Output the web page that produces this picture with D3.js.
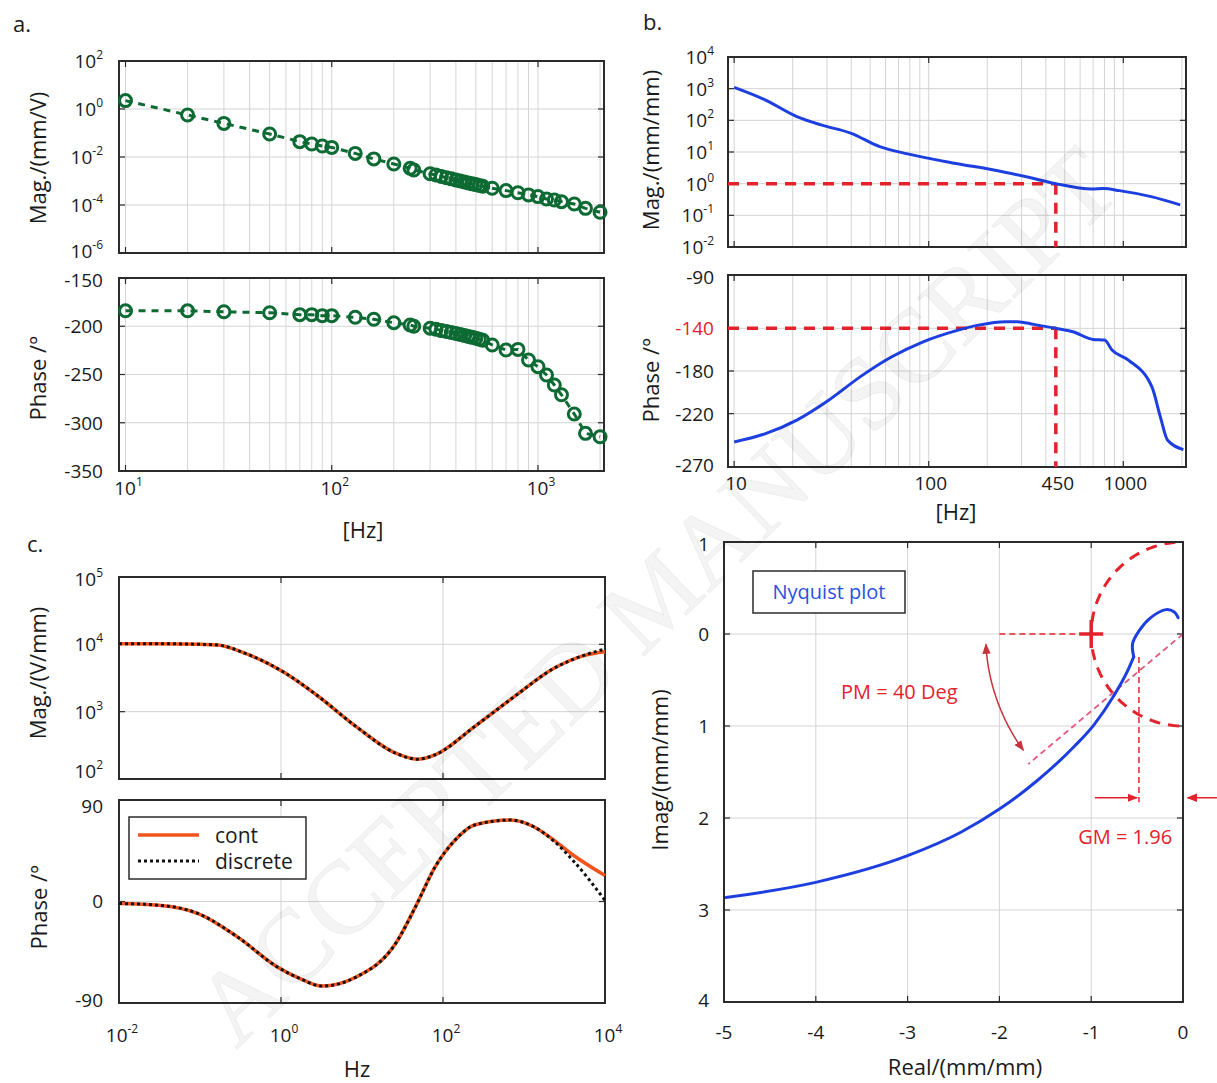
<!DOCTYPE html>
<html>
<head>
<meta charset="utf-8">
<script src="https://cdn.jsdelivr.net/npm/d3@7/dist/d3.min.js"></script>
<style>
html,body{margin:0;padding:0;background:#fff;}
svg text{font-family:'Open Sans',sans-serif;fill:#1a1a1a;}
</style>
</head>
<body>
<svg id="fig" width="1217" height="1083" xmlns="http://www.w3.org/2000/svg"></svg>
<script>
// ================= DATA =================
// Panel a: measured FRF (markers)
const aFreq  = [10,20,30,50,70,80,90,100,130,160,200,240,250,300,320,340,360,380,400,420,440,460,480,500,520,540,600,700,800,900,1000,1100,1200,1300,1500,1700,2000];
const aMag   = [2.24,0.562,0.251,0.0912,0.0437,0.0347,0.0288,0.0251,0.0141,0.00832,0.00513,0.00339,0.00288,0.0020,0.00178,0.00155,0.00138,0.00123,0.0011,0.001,0.000912,0.000832,0.000759,0.000708,0.000646,0.000603,0.000501,0.000398,0.000324,0.000263,0.000224,0.000178,0.000162,0.000138,0.00011,0.0000724,0.0000501];
const aPhase = [-184,-184,-185,-186,-188,-188,-189,-189,-190.7,-192.8,-196.3,-198.7,-200,-202,-203,-204.5,-205.5,-206.5,-207.5,-208.5,-209.5,-210.5,-211.5,-212.5,-213.5,-214.5,-219.4,-224.6,-224,-235,-241.9,-250.5,-260.9,-271,-291,-311,-314.5];

// Panel b: open-loop FRF
const bMagFreq   = [10,14.5,21,28,40,56,78,135,216,343,450,690,790,955,1390,1960];
const bMag       = [1096,437,132,71.6,38.9,14.8,8.71,4.44,2.72,1.48,1.0,0.676,0.70,0.603,0.389,0.214];
const bPhaseFreq = [10,14.5,21,30.6,44.4,64.6,93.6,136,180,249,286,346,450,551,697,801,875,1062,1403,1550,1690,2036];
const bPhase     = [-246.5,-238.7,-226,-207.4,-185.5,-166.7,-152.6,-142.6,-137,-133.8,-133.8,-136.3,-140,-143.2,-150.4,-151,-160.4,-169.8,-194.9,-223,-245,-253.7];
const bCrossFreq = 450;
const bCrossPhase = -140;

// Panel c: controller, continuous vs discrete
const cMagFreq   = [0.01,0.03,0.1,0.166,0.363,1.06,2.75,8.47,26,48,80,245,759,2344,5754,10000];
const cMagCont   = [10230,10230,10000,9770,7330,3920,1770,600,242,197,229,600,1670,4400,6920,7760];
const cMagDisc   = [10230,10230,10000,9770,7330,3920,1770,600,242,197,229,600,1670,4400,7000,8510];
const cPhFreq    = [0.01,0.031,0.095,0.29,0.9,1.8,3.2,8.47,26,45.7,80,141,245,676,1318,2344,4074,10000];
const cPhCont    = [-1.8,-3.3,-10.7,-31.4,-58,-69,-75,-67,-37.3,-4.8,30.7,54.4,67.8,72.2,66.3,54.4,41,23];
const cPhDisc    = [-1.8,-3.3,-10.7,-31.4,-58,-69,-75,-67,-37.3,-4.8,30.7,54.4,67.8,72.2,66.3,53.5,36,1];
const cLegend    = ["cont","discrete"];

// Nyquist
const nyqReal = [-4.98,-3.99,-3.0,-2.42,-2.0,-1.59,-1.18,-0.97,-0.764,-0.6,-0.537,-0.549,-0.475,-0.351,-0.186,-0.095,-0.053];
const nyqImag = [-2.865,-2.697,-2.41,-2.155,-1.903,-1.595,-1.218,-0.987,-0.688,-0.393,-0.248,-0.104,0.04,0.178,0.265,0.24,0.178];
const pmDeg = 40;
const gmReal = -0.48;

// tick labels
const aMagExp   = [2,0,-2,-4,-6];
const aPhTicks  = [-150,-200,-250,-300,-350];
const aXExp     = [1,2,3];
const bMagExp   = [4,3,2,1,0,-1,-2];
const bPhTicks  = [-90,-140,-180,-220,-270];
const bXTicks   = [10,100,450,1000];
const cMagExp   = [5,4,3,2];
const cPhTicks  = [90,0,-90];
const cXExp     = [-2,0,2,4];
const nXTicks   = [-5,-4,-3,-2,-1,0];
const nYTicks   = [1,0,-1,-2,-3,-4];
const nYLabels  = ["1","0","1","2","3","4"];

// ================= DRAWING =================
const svg = d3.select('#fig');
const GRID = '#d4d4d4', AX = '#2b2b2b';
const TFS = 19, LFS = 22;
const GREEN = '#0d6a33', BLUE = '#1d3fe0', RED = '#e3222c', ORANGE = '#f2541e';

const defs = svg.append('defs');
function arrowMarker(id, color){
  defs.append('marker').attr('id', id).attr('viewBox','0 0 10 10').attr('refX',9).attr('refY',5)
    .attr('markerWidth',7).attr('markerHeight',7).attr('orient','auto-start-reverse')
    .append('path').attr('d','M0,1 L10,5 L0,9 z').attr('fill', color);
}
arrowMarker('arrPM', '#c8323c');
arrowMarker('arrGM', RED);

function powLabel(sel, exp){
  sel.append('tspan').text('10');
  sel.append('tspan').attr('dy', -9).attr('font-size', 12).text(String(exp));
}
function frame(g, x0, x1, y0, y1){
  g.append('rect').attr('x',x0).attr('y',y0).attr('width',x1-x0).attr('height',y1-y0)
    .attr('fill','none').attr('stroke',AX).attr('stroke-width',2);
}
function vgrid(g, xs, vals, y0, y1){
  g.append('g').selectAll('line').data(vals).join('line')
    .attr('x1',d=>xs(d)).attr('x2',d=>xs(d)).attr('y1',y0).attr('y2',y1)
    .attr('stroke',GRID).attr('stroke-width',1);
}
function hgrid(g, ys, vals, x0, x1){
  g.append('g').selectAll('line').data(vals).join('line')
    .attr('y1',d=>ys(d)).attr('y2',d=>ys(d)).attr('x1',x0).attr('x2',x1)
    .attr('stroke',GRID).attr('stroke-width',1);
}
function xticks(g, xs, vals, y0, y1, len){
  const t = g.append('g').attr('stroke',AX).attr('stroke-width',1.2);
  t.selectAll('.b').data(vals).join('line').attr('x1',d=>xs(d)).attr('x2',d=>xs(d)).attr('y1',y1).attr('y2',y1-len);
  t.selectAll('.t').data(vals).join('line').attr('x1',d=>xs(d)).attr('x2',d=>xs(d)).attr('y1',y0).attr('y2',y0+len);
}
function yticks(g, ys, vals, x0, x1, len){
  const t = g.append('g').attr('stroke',AX).attr('stroke-width',1.2);
  t.selectAll('.l').data(vals).join('line').attr('y1',d=>ys(d)).attr('y2',d=>ys(d)).attr('x1',x0).attr('x2',x0+len);
  t.selectAll('.r').data(vals).join('line').attr('y1',d=>ys(d)).attr('y2',d=>ys(d)).attr('x1',x1).attr('x2',x1-len);
}
function yPowLabels(g, ys, exps, x, offsets){
  exps.forEach((e,i)=>{
    const t = g.append('text').attr('x',x).attr('y',ys(Math.pow(10,e)) + (offsets ? offsets[i] : 0)).attr('dy','0.36em')
      .attr('text-anchor','end').attr('font-size',TFS);
    powLabel(t, e);
  });
}
function yNumLabels(g, ys, vals, x, labels, colors, offsets){
  vals.forEach((v,i)=>{
    g.append('text').attr('x',x).attr('y',ys(v) + (offsets ? offsets[i] : 0)).attr('dy','0.36em').attr('text-anchor','end')
      .attr('font-size',TFS).style('fill', colors ? colors[i] : '#1a1a1a')
      .text(labels ? labels[i] : String(v));
  });
}
function xPowLabels(g, xs, exps, y){
  exps.forEach(e=>{
    const t = g.append('text').attr('x',xs(Math.pow(10,e))+3).attr('y',y).attr('dy','0.36em')
      .attr('text-anchor','middle').attr('font-size',TFS);
    powLabel(t, e);
  });
}
function yTitle(g, text, x, y){
  g.append('text').attr('transform',`translate(${x},${y}) rotate(-90)`).attr('text-anchor','middle')
    .attr('dy','0.36em').attr('font-size',LFS).text(text);
}
function logGrid(lo, hi){
  const out=[];
  for(let e=Math.floor(Math.log10(lo)); e<=Math.ceil(Math.log10(hi)); e++){
    for(let m=1;m<10;m++){ const v=m*Math.pow(10,e); if(v>lo && v<hi) out.push(v); }
  }
  return out;
}

// ---------- Panel a ----------
const gA = svg.append('g');
gA.append('text').attr('x',13).attr('y',32).attr('font-size',LFS).text('a.');
const xA  = d3.scaleLog().domain([9.3, 2090]).range([119, 604]);
const yAm = d3.scaleLog().domain([1e-6, 1e2]).range([253, 61]);
const yAp = d3.scaleLinear().domain([-350, -150]).range([471, 278]);
const aXgrid = logGrid(9.3, 2090);
// magnitude
vgrid(gA, xA, aXgrid, 61, 253);
hgrid(gA, yAm, [1e0,1e-2,1e-4], 119, 604);
xticks(gA, xA, [10,100,1000], 61, 253, 6);
yticks(gA, yAm, aMagExp.map(e=>Math.pow(10,e)), 119, 604, 6);
frame(gA, 119, 604, 61, 253);
yPowLabels(gA, yAm, aMagExp, 103, [0,0,0,0,-2]);
yTitle(gA, 'Mag./(mm/V)', 38, 158);
const aMagPts = aFreq.map((f,i)=>[f, aMag[i]]);
gA.append('path').datum(aMagPts).attr('fill','none').attr('stroke',GREEN).attr('stroke-width',3)
  .attr('stroke-dasharray','7 6').attr('d', d3.line().x(d=>xA(d[0])).y(d=>yAm(d[1])));
gA.append('g').selectAll('circle').data(aMagPts).join('circle')
  .attr('cx',d=>xA(d[0])).attr('cy',d=>yAm(d[1])).attr('r',6)
  .attr('fill','none').attr('stroke',GREEN).attr('stroke-width',3);
// phase
vgrid(gA, xA, aXgrid, 278, 471);
hgrid(gA, yAp, [-200,-250,-300], 119, 604);
xticks(gA, xA, [10,100,1000], 278, 471, 6);
yticks(gA, yAp, aPhTicks, 119, 604, 6);
frame(gA, 119, 604, 278, 471);
yNumLabels(gA, yAp, aPhTicks, 103, null, null, [2,0,0,0,0]);
yTitle(gA, 'Phase /°', 38, 378);
xPowLabels(gA, xA, aXExp, 488);
gA.append('text').attr('x',363).attr('y',530).attr('dy','0.36em').attr('text-anchor','middle').attr('font-size',LFS).text('[Hz]');
const aPhPts = aFreq.map((f,i)=>[f, aPhase[i]]);
gA.append('path').datum(aPhPts).attr('fill','none').attr('stroke',GREEN).attr('stroke-width',3)
  .attr('stroke-dasharray','7 6').attr('d', d3.line().x(d=>xA(d[0])).y(d=>yAp(d[1])));
gA.append('g').selectAll('circle').data(aPhPts).join('circle')
  .attr('cx',d=>xA(d[0])).attr('cy',d=>yAp(d[1])).attr('r',6)
  .attr('fill','none').attr('stroke',GREEN).attr('stroke-width',3);

// ---------- Panel b ----------
const gB = svg.append('g');
gB.append('text').attr('x',643).attr('y',30).attr('font-size',LFS).text('b.');
const xB  = d3.scaleLog().domain([9.3, 2100]).range([728, 1186]);
const yBm = d3.scaleLog().domain([1e-2, 1e4]).range([247, 57]);
const yBp = d3.scaleLinear().domain([-270, -90]).range([467, 275]);
const bXgrid = logGrid(9.3, 2100);
vgrid(gB, xB, bXgrid, 57, 247);
hgrid(gB, yBm, [1e3,1e2,1e1,1e0,1e-1], 728, 1186);
xticks(gB, xB, [10,100,1000], 57, 247, 6);
yticks(gB, yBm, bMagExp.map(e=>Math.pow(10,e)), 728, 1186, 6);
frame(gB, 728, 1186, 57, 247);
yPowLabels(gB, yBm, bMagExp, 714);
yTitle(gB, 'Mag./(mm/mm)', 651, 150);
const lineB = (ys)=> d3.line().curve(d3.curveMonotoneX).x(d=>xB(d[0])).y(d=>ys(d[1]));
gB.append('path').datum([[xB.domain()[0],1],[bCrossFreq,1]]).attr('fill','none')
  .attr('stroke',RED).attr('stroke-width',3.5).attr('stroke-dasharray','11 8')
  .attr('d', d3.line().x(d=>xB(d[0])).y(d=>yBm(d[1])));
gB.append('path').datum([[bCrossFreq,1],[bCrossFreq,1e-2]]).attr('fill','none')
  .attr('stroke',RED).attr('stroke-width',3.5).attr('stroke-dasharray','11 8')
  .attr('d', d3.line().x(d=>xB(d[0])).y(d=>yBm(d[1])));
gB.append('path').datum(bMagFreq.map((f,i)=>[f,bMag[i]])).attr('fill','none').attr('stroke',BLUE)
  .attr('stroke-width',3).attr('d', lineB(yBm));
// phase
vgrid(gB, xB, bXgrid, 275, 467);
hgrid(gB, yBp, [-140,-180,-220], 728, 1186);
xticks(gB, xB, [10,100,1000], 275, 467, 6);
yticks(gB, yBp, bPhTicks, 728, 1186, 6);
frame(gB, 728, 1186, 275, 467);
yNumLabels(gB, yBp, bPhTicks, 714, null, bPhTicks.map(v=> v===bCrossPhase ? RED : '#1a1a1a'), [2,0,0,0,-2]);
yTitle(gB, 'Phase /°', 651, 380);
bXTicks.forEach(v=>{
  gB.append('text').attr('x',xB(v)+2).attr('y',483).attr('dy','0.36em').attr('text-anchor','middle')
    .attr('font-size',TFS).text(String(v));
});
gB.append('text').attr('x',956).attr('y',512).attr('dy','0.36em').attr('text-anchor','middle').attr('font-size',LFS).text('[Hz]');
gB.append('path').datum([[xB.domain()[0],bCrossPhase],[bCrossFreq,bCrossPhase]]).attr('fill','none')
  .attr('stroke',RED).attr('stroke-width',3.5).attr('stroke-dasharray','11 8')
  .attr('d', d3.line().x(d=>xB(d[0])).y(d=>yBp(d[1])));
gB.append('path').datum([[bCrossFreq,bCrossPhase],[bCrossFreq,-270]]).attr('fill','none')
  .attr('stroke',RED).attr('stroke-width',3.5).attr('stroke-dasharray','11 8')
  .attr('d', d3.line().x(d=>xB(d[0])).y(d=>yBp(d[1])));
gB.append('path').datum(bPhaseFreq.map((f,i)=>[f,bPhase[i]])).attr('fill','none').attr('stroke',BLUE)
  .attr('stroke-width',3).attr('d', lineB(yBp));

// ---------- Panel c ----------
const gC = svg.append('g');
gC.append('text').attr('x',27).attr('y',552).attr('font-size',LFS).text('c.');
const xC  = d3.scaleLog().domain([1e-2, 1e4]).range([119, 605]);
const yCm = d3.scaleLog().domain([1e2, 1e5]).range([779, 577]);
const yCp = d3.scaleLinear().domain([-90, 90]).range([1003, 800]);
vgrid(gC, xC, [1, 100], 577, 779);
hgrid(gC, yCm, [1e3, 1e4], 119, 605);
xticks(gC, xC, [1e-2,1,100,1e4], 577, 779, 6);
yticks(gC, yCm, cMagExp.map(e=>Math.pow(10,e)), 119, 605, 6);
frame(gC, 119, 605, 577, 779);
yPowLabels(gC, yCm, cMagExp, 103, [2,0,0,-8]);
yTitle(gC, 'Mag./(V/mm)', 38, 673);
const lineC = (ys)=> d3.line().curve(d3.curveMonotoneX).x(d=>xC(d[0])).y(d=>ys(d[1]));
gC.append('path').datum(cMagFreq.map((f,i)=>[f,cMagCont[i]])).attr('fill','none').attr('stroke',ORANGE)
  .attr('stroke-width',3.5).attr('d', lineC(yCm));
gC.append('path').datum(cMagFreq.map((f,i)=>[f,cMagDisc[i]])).attr('fill','none').attr('stroke','#111')
  .attr('stroke-width',3).attr('stroke-dasharray','3 3').attr('d', lineC(yCm));
// phase
vgrid(gC, xC, [1, 100], 800, 1003);
hgrid(gC, yCp, [0], 119, 605);
xticks(gC, xC, [1e-2,1,100,1e4], 800, 1003, 6);
yticks(gC, yCp, cPhTicks, 119, 605, 6);
frame(gC, 119, 605, 800, 1003);
yNumLabels(gC, yCp, cPhTicks, 103, null, null, [6,0,-3]);
yTitle(gC, 'Phase /°', 39, 907);
xPowLabels(gC, xC, cXExp, 1035);
gC.append('text').attr('x',357).attr('y',1069).attr('dy','0.36em').attr('text-anchor','middle').attr('font-size',LFS).text('Hz');
gC.append('path').datum(cPhFreq.map((f,i)=>[f,cPhCont[i]])).attr('fill','none').attr('stroke',ORANGE)
  .attr('stroke-width',3.5).attr('d', lineC(yCp));
gC.append('path').datum(cPhFreq.map((f,i)=>[f,cPhDisc[i]])).attr('fill','none').attr('stroke','#111')
  .attr('stroke-width',3).attr('stroke-dasharray','3 3').attr('d', lineC(yCp));
// legend
const leg = gC.append('g');
leg.append('rect').attr('x',129).attr('y',817).attr('width',177).attr('height',62)
  .attr('fill','#fff').attr('stroke',AX).attr('stroke-width',1.5);
leg.append('line').attr('x1',138).attr('x2',199).attr('y1',835).attr('y2',835).attr('stroke',ORANGE).attr('stroke-width',3.5);
leg.append('line').attr('x1',138).attr('x2',199).attr('y1',861).attr('y2',861).attr('stroke','#111').attr('stroke-width',3).attr('stroke-dasharray','3 3');
leg.append('text').attr('x',215).attr('y',835).attr('dy','0.36em').attr('font-size',21).text(cLegend[0]);
leg.append('text').attr('x',215).attr('y',861).attr('dy','0.36em').attr('font-size',21).text(cLegend[1]);

// ---------- Nyquist ----------
const gN = svg.append('g');
const xN = d3.scaleLinear().domain([-5, 0]).range([724, 1183]);
const yN = d3.scaleLinear().domain([1, -4]).range([542, 1002]);
defs.append('clipPath').attr('id','clipN').append('rect').attr('x',724).attr('y',542).attr('width',459).attr('height',460);
vgrid(gN, xN, [-4,-3,-2,-1], 542, 1002);
hgrid(gN, yN, [0,-1,-2,-3], 724, 1183);
xticks(gN, xN, nXTicks, 542, 1002, 6);
yticks(gN, yN, nYTicks, 724, 1183, 6);
nXTicks.forEach(v=>{
  gN.append('text').attr('x',xN(v)).attr('y',1032).attr('dy','0.36em').attr('text-anchor','middle')
    .attr('font-size',TFS).text(String(v));
});
yNumLabels(gN, yN, nYTicks, 709, nYLabels, null, [2,0,0,0,0,-2]);
gN.append('text').attr('x',965).attr('y',1067).attr('dy','0.36em').attr('text-anchor','middle').attr('font-size',LFS).text('Real/(mm/mm)');
yTitle(gN, 'Imag/(mm/mm)', 660, 770);
const inner = gN.append('g').attr('clip-path','url(#clipN)');
const lnN = d3.line().x(d=>xN(d[0])).y(d=>yN(d[1]));
// unit circle
const circ = d3.range(0, 361, 2).map(a=>[Math.cos(a*Math.PI/180), Math.sin(a*Math.PI/180)]);
inner.append('path').datum(circ).attr('fill','none').attr('stroke',RED).attr('stroke-width',3)
  .attr('stroke-dasharray','11 8').attr('d', lnN);
// PM guide lines
inner.append('path').datum([[-2,0],[-1,0]]).attr('fill','none').attr('stroke',RED).attr('stroke-width',1.5)
  .attr('stroke-dasharray','6 4').attr('d', lnN);
const pmR = 2.2, pmA = pmDeg*Math.PI/180;
inner.append('path').datum([[0,0],[-pmR*Math.cos(pmA), -pmR*Math.sin(pmA)]]).attr('fill','none')
  .attr('stroke','#e4577d').attr('stroke-width',1.8).attr('stroke-dasharray','6 4').attr('d', lnN);
// GM vertical guide
inner.append('path').datum([[gmReal,-0.25],[gmReal,-1.83]]).attr('fill','none').attr('stroke',RED)
  .attr('stroke-width',1.5).attr('stroke-dasharray','6 4').attr('d', lnN);
// Nyquist curve: smooth main branch + hook near origin
const nyqPts = nyqReal.map((r,i)=>[r,nyqImag[i]]);
inner.append('path').datum(nyqPts.slice(0, 11)).attr('fill','none').attr('stroke',BLUE)
  .attr('stroke-width',3).attr('stroke-linecap','round')
  .attr('d', d3.line().curve(d3.curveMonotoneX).x(d=>xN(d[0])).y(d=>yN(d[1])));
inner.append('path').datum(nyqPts.slice(10)).attr('fill','none').attr('stroke',BLUE)
  .attr('stroke-width',3).attr('stroke-linecap','round')
  .attr('d', d3.line().curve(d3.curveCatmullRom.alpha(0.5)).x(d=>xN(d[0])).y(d=>yN(d[1])));
// critical point
gN.append('line').attr('x1',xN(-1)-12).attr('x2',xN(-1)+12).attr('y1',yN(0)).attr('y2',yN(0)).attr('stroke',RED).attr('stroke-width',3.5);
gN.append('line').attr('x1',xN(-1)).attr('x2',xN(-1)).attr('y1',yN(0)-14).attr('y2',yN(0)+14).attr('stroke',RED).attr('stroke-width',3.5);
// PM arc
const arcPts = d3.range(183, 216.1, 1).map(a=>[2.15*Math.cos(a*Math.PI/180), 2.15*Math.sin(a*Math.PI/180)]);
gN.append('path').datum(arcPts).attr('fill','none').attr('stroke','#c8323c').attr('stroke-width',1.5)
  .attr('marker-start','url(#arrPM)').attr('marker-end','url(#arrPM)')
  .attr('d', d3.line().curve(d3.curveBasis).x(d=>xN(d[0])).y(d=>yN(d[1])));
// GM arrows
gN.append('line').attr('x1',xN(-0.96)).attr('x2',xN(gmReal-0.02)).attr('y1',yN(-1.78)).attr('y2',yN(-1.78))
  .attr('stroke',RED).attr('stroke-width',1.5).attr('marker-end','url(#arrGM)');
gN.append('line').attr('x1',xN(0.37)).attr('x2',xN(0.05)).attr('y1',yN(-1.78)).attr('y2',yN(-1.78))
  .attr('stroke',RED).attr('stroke-width',1.5).attr('marker-end','url(#arrGM)');
frame(gN, 724, 1183, 542, 1002);
// annotation texts
gN.append('text').attr('x',xN(-3.09)).attr('y',yN(-0.63)).attr('dy','0.36em').attr('text-anchor','middle')
  .attr('font-size',20).style('fill',RED).text('PM = 40 Deg');
gN.append('text').attr('x',xN(-0.63)).attr('y',yN(-2.2)).attr('dy','0.36em').attr('text-anchor','middle')
  .attr('font-size',20).style('fill',RED).text('GM = 1.96');
gN.append('rect').attr('x',753).attr('y',571).attr('width',152).attr('height',42)
  .attr('fill','#fff').attr('stroke',AX).attr('stroke-width',1.5);
gN.append('text').attr('x',829).attr('y',592).attr('dy','0.36em').attr('text-anchor','middle')
  .attr('font-size',20).style('fill','#2b50e0').text('Nyquist plot');

// ---------- watermark ----------
svg.append('text').attr('transform','translate(655,595) rotate(-44)').attr('text-anchor','middle')
  .attr('dy','0.35em').attr('font-size',104).style('font-family',"'Liberation Serif','DejaVu Serif',serif")
  .style('fill','#000').style('fill-opacity',0.045).style('stroke','#000').style('stroke-opacity',0.05)
  .style('pointer-events','none').text('ACCEPTED MANUSCRIPT');
</script>
</body>
</html>
